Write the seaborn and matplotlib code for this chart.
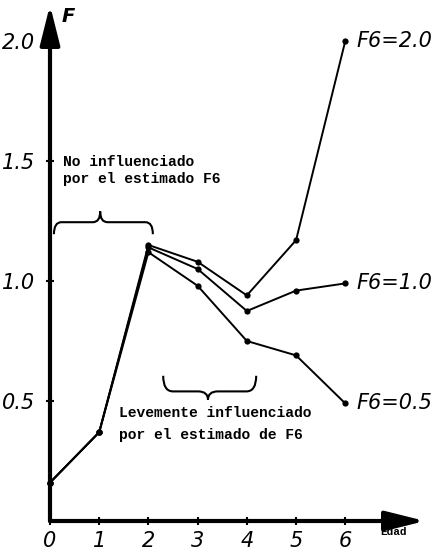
import numpy as np
import pandas as pd
import matplotlib
matplotlib.use("Agg")
import matplotlib.pyplot as plt
from matplotlib.path import Path
from matplotlib.patches import PathPatch
import seaborn as sns

# Fishing mortality F by age for three assumed terminal values F6
edad = [0, 1, 2, 3, 4, 5, 6]
f_f6_20 = [0.16, 0.37, 1.15, 1.08, 0.94, 1.17, 2.00]
f_f6_10 = [0.16, 0.37, 1.14, 1.05, 0.875, 0.96, 0.99]
f_f6_05 = [0.16, 0.37, 1.12, 0.98, 0.75, 0.69, 0.49]
serie_labels = ["F6=2.0", "F6=1.0", "F6=0.5"]

x_ticks = [0, 1, 2, 3, 4, 5, 6]
y_ticks = [0.5, 1.0, 1.5, 2.0]
y_ticklabels = ["0.5", "1.0", "1.5", "2.0"]

df = pd.concat([
    pd.DataFrame({"edad": edad, "F": vals, "F6": lab})
    for vals, lab in zip([f_f6_20, f_f6_10, f_f6_05], serie_labels)
])

sns.set_style("white")
plt.rcParams["font.family"] = ["DejaVu Sans"]
plt.rcParams["text.color"] = "black"

W, H = 432, 554
fig = plt.figure(figsize=(W / 100, H / 100), dpi=100)
x0_px, y0_px = 50, 521
xmax, ymax = 7.62, 2.15
ax = fig.add_axes([x0_px / W, (H - y0_px) / H, 375 / W, 516 / H])
ax.set_xlim(0, xmax)
ax.set_ylim(0, ymax)

sns.lineplot(data=df, x="edad", y="F", hue="F6", palette=["black"] * 3,
             marker="o", markersize=4.5, markeredgewidth=0, linewidth=1.4,
             legend=False, ax=ax, clip_on=False, sort=False)

for s in ax.spines.values():
    s.set_visible(False)

# Axes drawn as arrows
arrow_kw = dict(arrowstyle="-|>,head_length=1.2,head_width=0.3", lw=3,
                color="black", mutation_scale=20, shrinkA=0, shrinkB=0)
ax.annotate("", xy=(xmax, 0), xytext=(0, 0), arrowprops=arrow_kw,
            annotation_clip=False)
ax.annotate("", xy=(0, ymax), xytext=(0, 0), arrowprops=arrow_kw,
            annotation_clip=False)

ax.set_xticks(x_ticks)
ax.set_xticklabels([str(v) for v in x_ticks], fontsize=15, style="italic")
ax.set_yticks(y_ticks)
ax.set_yticklabels(y_ticklabels, fontsize=15, style="italic")
ax.tick_params(axis="both", direction="inout", length=6, width=1.5,
               colors="black", left=True, bottom=True)
ax.tick_params(axis="x", pad=4)
ax.tick_params(axis="y", pad=8)
ax.set_xlabel("")
ax.set_ylabel("")

ax.text(0.37, 2.1, "F", fontsize=14, style="italic", fontweight="bold",
        ha="center", va="center", color="black")
ax.text(6.97, -0.047, "Edad", fontsize=8, fontweight="bold",
        family="Liberation Mono", ha="center", va="center", clip_on=False,
        color="black")

# Series labels at the end of each line
for vals, lab in zip([f_f6_20, f_f6_10, f_f6_05], serie_labels):
    ax.text(6.22, vals[-1], lab, fontsize=15, style="italic",
            ha="left", va="center", color="black")

mono = dict(family="Liberation Mono", fontweight="bold", fontsize=10.5,
            color="black")
ax.text(0.27, 1.46, "No influenciado\npor el estimado F6", ha="left",
        va="center", linespacing=1.25, **mono)
ax.text(1.4, 0.404, "Levemente influenciado\npor el estimado de F6",
        ha="left", va="center", linespacing=1.75, **mono)


def brace(ax, xa, xb, xm, yf, end, tip, r, d):
    """Curly brace between xa and xb at level yf; d=+1 tip up, -1 tip down."""
    verts = [
        (xa, yf - d * end), (xa, yf), (xa + r, yf),
        (xm - r, yf), (xm, yf), (xm, yf + d * tip),
        (xm, yf), (xm + r, yf),
        (xb - r, yf), (xb, yf), (xb, yf - d * end),
    ]
    codes = [Path.MOVETO, Path.CURVE3, Path.CURVE3,
             Path.LINETO, Path.CURVE3, Path.CURVE3,
             Path.CURVE3, Path.CURVE3,
             Path.LINETO, Path.CURVE3, Path.CURVE3]
    ax.add_patch(PathPatch(Path(verts, codes), fill=False, lw=1.5,
                           color="black", clip_on=False))


brace(ax, 0.08, 2.09, 1.02, 1.245, 0.05, 0.045, 0.15, +1)
brace(ax, 2.30, 4.19, 3.21, 0.54, 0.065, 0.035, 0.2, -1)

fig.savefig("out.png", dpi=100)
